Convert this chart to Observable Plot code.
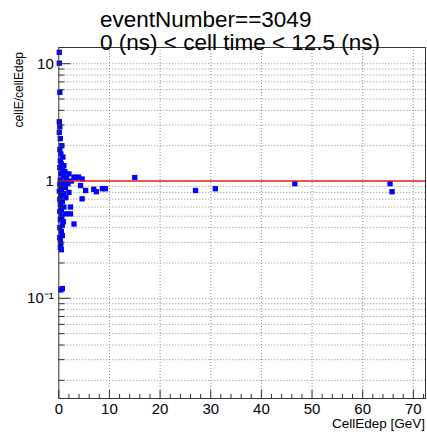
<!DOCTYPE html>
<html>
<head>
<meta charset="utf-8">
<script src="https://cdn.jsdelivr.net/npm/d3@7"></script>
<script src="https://cdn.jsdelivr.net/npm/@observablehq/plot@0.6"></script>
<style>
  html, body { margin: 0; padding: 0; background: #fff; }
  #wrap { position: relative; width: 427px; height: 432px; overflow: hidden; }
  #overlay { position: absolute; left: 0; top: 0; pointer-events: none; }
  #overlay text { font-family: "Liberation Sans", Arial, Helvetica, sans-serif; fill: #000; }
</style>
</head>
<body>
<div id="wrap"></div>
<script>
// ---- data ----
const titleLines = ["eventNumber==3049", "0 (ns) < cell time < 12.5 (ns)"];
const xLabel = "CellEdep [GeV]";
const yLabel = "cellE/cellEdep";

const cellEdep = [
  0.1, 0.1, 0.2, 0.1, 0.2, 0.1, 0.3, 0.6, 0.2, 0.4, 0.8, 0.3, 0.5, 1.0, 0.2, 0.7,
  1.2, 0.4, 0.9, 1.5, 0.3, 0.6, 1.1, 0.2, 0.8, 1.3, 0.5, 0.1, 0.9, 0.4, 1.4, 0.2,
  0.7, 0.3, 1.0, 0.5, 0.2, 1.3, 0.6, 0.3, 0.9, 0.7, 0.2, 0.5, 0.7, 0.2, 0.3, 0.4,
  0.3, 0.5, 0.7, 0.4,
  2.0, 2.3, 2.3, 3.0, 3.0, 3.3, 3.9, 4.3, 4.6, 4.6, 5.3, 6.9, 7.4, 8.6, 9.2,
  2.5, 1.8, 2.0, 15.0, 27.0, 30.9, 46.6, 65.4, 65.8
];
const ratio = [
  12.5, 10.1, 5.7, 3.2, 2.9, 2.6, 2.3, 2.0, 1.85, 1.7, 1.6, 1.5, 1.4, 1.35, 1.3, 1.25,
  1.2, 1.15, 1.1, 1.05, 1.02, 0.98, 0.95, 0.93, 0.9, 0.88, 0.85, 0.82, 0.78, 0.75, 0.72, 0.7,
  0.67, 0.63, 0.6, 0.57, 0.55, 0.525, 0.5, 0.47, 0.45, 0.42, 0.4, 0.37, 0.343, 0.33, 0.311, 0.29,
  0.272, 0.26, 0.121, 0.118,
  0.80, 0.525, 0.6, 0.43, 1.08, 1.06, 1.08, 0.915, 1.04, 0.705, 0.83, 0.85, 0.81, 0.86, 0.86,
  1.0, 0.95, 1.15, 1.07, 0.83, 0.86, 0.95, 0.95, 0.81
];
const referenceLine = [1];

const xMajor = [0, 10, 20, 30, 40, 50, 60, 70];
const xMinor = d3.range(0, 73, 2).filter(v => v % 10 !== 0);
const xGrid = [10, 20, 30, 40, 50, 60, 70];
const yMajor = [0.1, 1, 10];
const yMajorLabels = ["10\u207B\u00B9", "1", "10"];
const yMinor = [0.02,0.03,0.04,0.05,0.06,0.07,0.08,0.09,
                0.2,0.3,0.4,0.5,0.6,0.7,0.8,0.9,
                2,3,4,5,6,7,8,9];
const yGrid = yMinor.concat(yMajor);

const points = cellEdep.map((x, i) => ({x, y: ratio[i]}));

const font = '"Liberation Sans", Arial, Helvetica, sans-serif';
const gridStyle = {stroke: "#8a8a8a", strokeOpacity: 1, strokeDasharray: "1,2", strokeWidth: 1};

const chart = Plot.plot({
  width: 427,
  height: 432,
  marginLeft: 58.3,
  marginRight: 2,
  marginTop: 47,
  marginBottom: 34,
  style: {fontFamily: font, fontSize: "15px", color: "#000", background: "#fff"},
  x: {domain: [0, 72.4], label: null},
  y: {type: "log", domain: [0.0140, 13.74], label: null},
  marks: [
    Plot.gridX({ticks: xGrid, ...gridStyle}),
    Plot.gridY({ticks: yGrid, ...gridStyle}),
    Plot.dot(points, {x: "x", y: "y", symbol: "square", r: 3, fill: "#0000ff", stroke: "none"}),
    Plot.ruleY(referenceLine, {stroke: "#ee1f24", strokeWidth: 1.6}),
    Plot.frame({stroke: "#333", strokeWidth: 1}),
    // ticks (inward)
    Plot.axisX({ticks: xMajor, tickSize: -8, tickFormat: () => "", stroke: "#333"}),
    Plot.axisX({ticks: xMinor, tickSize: -4, tickFormat: () => "", stroke: "#333"}),
    Plot.axisY({ticks: yMajor, tickSize: -12, tickFormat: () => "", stroke: "#333"}),
    Plot.axisY({ticks: yMinor, tickSize: -6, tickFormat: () => "", stroke: "#333"}),
    // labels
    Plot.axisX({ticks: xMajor, tickSize: 0, tickPadding: 5, fontSize: 15, tickFormat: d => String(d)}),
    Plot.axisY({ticks: yMajor, tickSize: 0, tickPadding: 5, fontSize: 15,
                tickFormat: d => yMajorLabels[yMajor.indexOf(d)]})
  ]
});

const wrap = document.getElementById("wrap");
wrap.appendChild(chart);

// title and axis titles as an overlay
const ns = "http://www.w3.org/2000/svg";
const ov = document.createElementNS(ns, "svg");
ov.setAttribute("id", "overlay");
ov.setAttribute("width", 427);
ov.setAttribute("height", 432);
function addText(str, x, y, size, anchor, rotate) {
  const t = document.createElementNS(ns, "text");
  t.textContent = str;
  t.setAttribute("x", x);
  t.setAttribute("y", y);
  t.setAttribute("font-size", size);
  t.setAttribute("text-anchor", anchor);
  if (rotate) t.setAttribute("transform", `rotate(${rotate} ${x} ${y})`);
  ov.appendChild(t);
}
addText(titleLines[0], 100, 27, 22.5, "start");
addText(titleLines[1], 100, 50, 22.5, "start");
addText(xLabel, 425, 428, 13.5, "end");
addText(yLabel, 23, 52, 12, "end", -90);
wrap.appendChild(ov);
</script>
</body>
</html>
